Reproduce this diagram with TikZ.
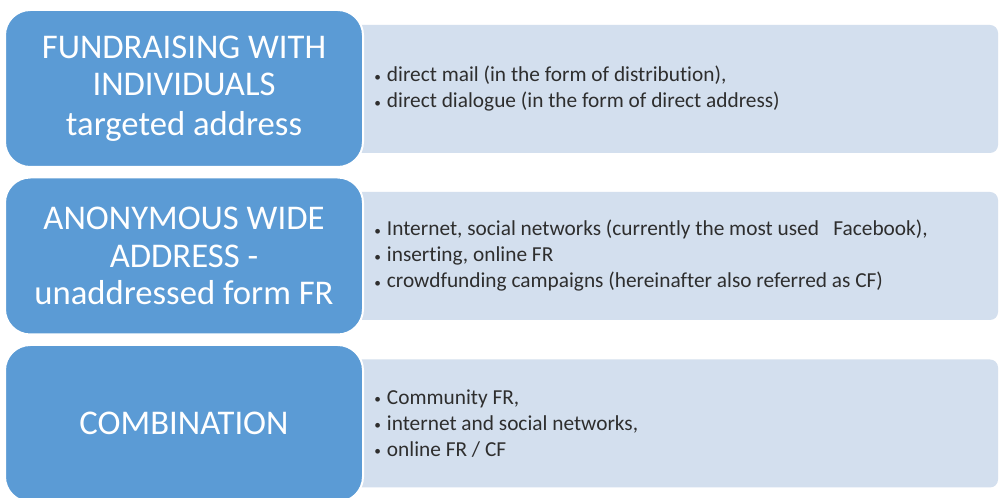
\documentclass[tikz,border=0pt]{standalone}
\usepackage{fontspec}
\setmainfont{Carlito}[Ligatures={NoCommon}]
\definecolor{boxblue}{HTML}{5B9BD5}
\definecolor{paleblue}{HTML}{D3DFEE}
\definecolor{itemgray}{HTML}{2E2E2E}
\newcommand{\itembullet}{\makebox[11pt][l]{\hspace{1.5pt}\raisebox{0.6pt}{\fontsize{10}{10}\selectfont •}}}
\begin{document}
\begin{tikzpicture}[x=0.75pt,y=-0.75pt,
  headbox/.style={rectangle, rounded corners=19pt, fill=boxblue, draw=white,
    line width=1.5pt, minimum width=268.5pt, minimum height=117.75pt,
    text=white, align=center, inner sep=0pt,
    font=\fontsize{26}{28}\selectfont},
  listbox/.style={rectangle, rounded corners=6pt, fill=paleblue, draw=none,
    minimum width=493.5pt, minimum height=96pt, inner sep=0pt},
  listtext/.style={anchor=west, align=left, text=itemgray, inner sep=0pt,
    font=\fontsize{16}{19.5}\selectfont}]
  \useasboundingbox (0,0) rectangle (1000,498);
  \fill[white] (0,0) rectangle (1000,498);

  % pale list panels, tucked behind the blue heads
  \node[listbox] (l1) at (669,89) {};
  \node[listbox] (l2) at (669,256) {};
  \node[listbox] (l3) at (669,423.5) {};

  % blue heads
  \node[headbox] (h1) at (184,88.5)
    {FUNDRAISING WITH\\INDIVIDUALS\\[2pt]targeted address};
  \node[headbox] (h2) at (184,256)
    {ANONYMOUS WIDE\\ADDRESS -\\unaddressed form FR};
  \node[headbox] (h3) at (184,423.5) {COMBINATION};

  % list items
  \node[listtext] (t1) at (372,89)
    {\itembullet direct mail (in the form of distribution),\\
     \itembullet direct dialogue (in the form of direct address)};
  \node[listtext] (t2) at (372,256)
    {\itembullet Internet, social networks (currently the most used\ \ \ Facebook),\\
     \itembullet inserting, online FR\\
     \itembullet crowdfunding campaigns (hereinafter also referred as CF)};
  \node[listtext] (t3) at (372,423.5)
    {\itembullet Community FR,\\
     \itembullet internet and social networks,\\
     \itembullet online FR / CF};
\end{tikzpicture}
\end{document}
